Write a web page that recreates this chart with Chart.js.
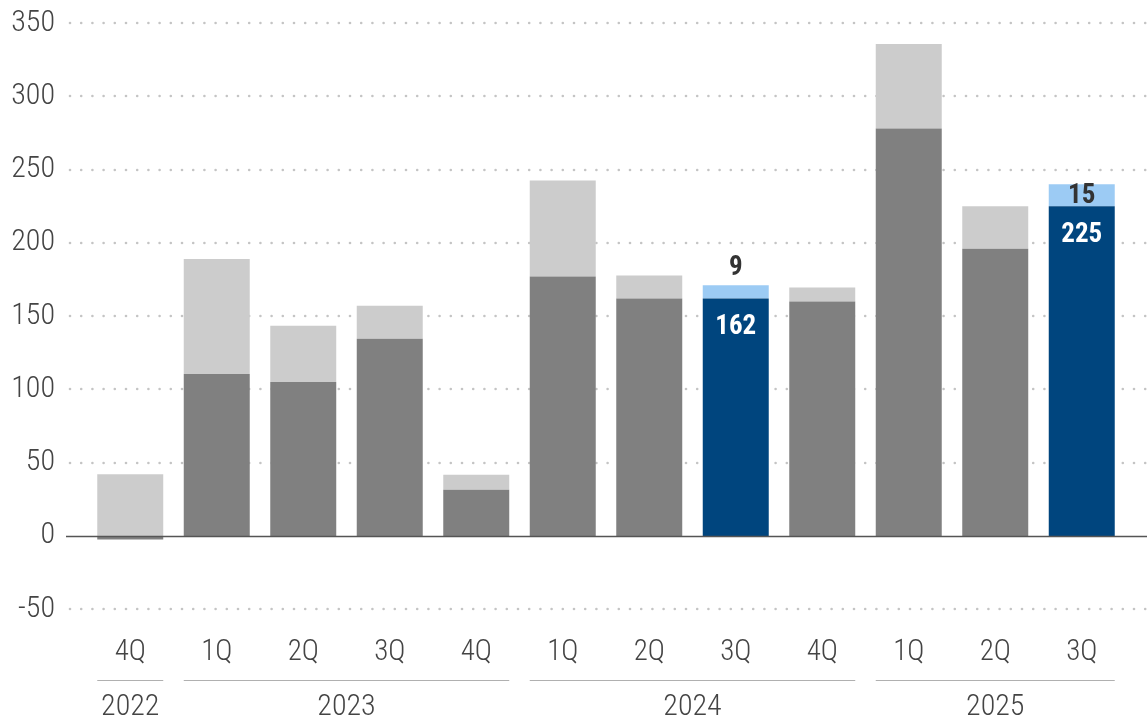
<!DOCTYPE html>
<html>
<head>
<meta charset="utf-8">
<script src="https://cdn.jsdelivr.net/npm/chart.js@4"></script>
<style>
  html, body { margin: 0; padding: 0; background: #fff; }
  #wrap { width: 1147px; height: 719px; }
</style>
</head>
<body>
<div id="wrap"><canvas id="chart"></canvas></div>
<script>
const quarters = ['4Q', '1Q', '2Q', '3Q', '4Q', '1Q', '2Q', '3Q', '4Q', '1Q', '2Q', '3Q']
const years = [
  { label: '2022', from: 0, to: 0 },
  { label: '2023', from: 1, to: 4 },
  { label: '2024', from: 5, to: 8 },
  { label: '2025', from: 9, to: 11 }
]
const baseValues = [-2.5, 110.5, 105, 134.5, 31.5, 177, 162, 162, 160, 278, 196, 225]
const extraValues = [42, 78.5, 38.5, 22.5, 10.3, 65.6, 15.7, 9, 9.5, 57.6, 29, 15]
const highlighted = [7, 11]
const yTicks = [-50, 0, 50, 100, 150, 200, 250, 300, 350]

const FONT = '"Roboto Condensed", "Liberation Sans Narrow", Roboto, sans-serif'
const TEXT = '#444'

const baseColors = baseValues.map((_, i) => highlighted.includes(i) ? '#00457e' : '#808080')
const extraColors = extraValues.map((_, i) => highlighted.includes(i) ? '#9ccbf4' : '#cccccc')

// dotted grid lines, solid zero line, year groups and value labels
const decor = {
  id: 'decor',
  beforeDatasetsDraw(chart) {
    const { ctx, scales: { y }, width } = chart
    ctx.save()
    yTicks.forEach(v => {
      if (v === 0) return
      const py = Math.round(y.getPixelForValue(v))
      ctx.fillStyle = '#c4c4c4'
      for (let x = 70; x < width; x += 11.2) {
        ctx.beginPath()
        ctx.arc(x, py, 1.3, 0, Math.PI * 2)
        ctx.fill()
      }
    })
    ctx.restore()
  },
  afterDatasetsDraw(chart) {
    const { ctx, scales: { x, y }, width } = chart
    ctx.save()
    // zero line
    const y0 = Math.round(y.getPixelForValue(0)) + 0.5
    ctx.strokeStyle = '#555'
    ctx.lineWidth = 1.5
    ctx.beginPath()
    ctx.moveTo(66, y0)
    ctx.lineTo(width, y0)
    ctx.stroke()

    // year groups
    const meta = chart.getDatasetMeta(0)
    ctx.font = '300 30px ' + FONT
    ctx.fillStyle = TEXT
    ctx.textAlign = 'center'
    ctx.textBaseline = 'middle'
    years.forEach(g => {
      const a = meta.data[g.from], b = meta.data[g.to]
      const left = a.x - a.width / 2
      const right = b.x + b.width / 2
      ctx.strokeStyle = '#b0b0b0'
      ctx.lineWidth = 1.2
      ctx.beginPath()
      ctx.moveTo(left, 680.5)
      ctx.lineTo(right, 680.5)
      ctx.stroke()
      ctx.fillText(g.label, (left + right) / 2, 707)
    })

    // value labels on highlighted bars
    ctx.font = 'bold 27px ' + FONT
    highlighted.forEach(i => {
      const bar = meta.data[i]
      const base = baseValues[i], extra = extraValues[i]
      const topBase = y.getPixelForValue(base)
      const topAll = y.getPixelForValue(base + extra)
      ctx.fillStyle = '#fff'
      ctx.fillText(String(base), bar.x, topBase + 29)
      ctx.fillStyle = '#333'
      if (topBase - topAll > 18) {
        ctx.fillText(String(extra), bar.x, (topBase + topAll) / 2 + 1)
      } else {
        ctx.fillText(String(extra), bar.x, topAll - 17)
      }
    })
    ctx.restore()
  }
}

new Chart(document.getElementById('chart'), {
  type: 'bar',
  data: {
    labels: quarters,
    datasets: [
      { data: baseValues, backgroundColor: baseColors, stack: 's' },
      { data: extraValues, backgroundColor: extraColors, stack: 's' }
    ]
  },
  options: {
    responsive: true,
    maintainAspectRatio: false,
    animation: false,
    datasets: { bar: { barPercentage: 0.763, categoryPercentage: 1 } },
    layout: { padding: { top: 23, right: 22, bottom: 23, left: 0 } },
    plugins: { legend: { display: false }, tooltip: { enabled: false } },
    scales: {
      x: {
        stacked: true,
        grid: { display: false, drawTicks: false },
        border: { display: false },
        ticks: { color: TEXT, font: { family: FONT, size: 29, weight: '300' }, padding: 26, maxRotation: 0 }
      },
      y: {
        stacked: true,
        min: -50,
        max: 350,
        afterBuildTicks(scale) { scale.ticks = yTicks.map(v => ({ value: v })) },
        afterFit(scale) {
          scale.width = 87
          // tick padding is horizontal only here; don't let it push the chart area down
          scale.paddingTop = 14
          scale.paddingBottom = 14
        },
        grid: { display: false, drawTicks: false },
        border: { display: false },
        ticks: { color: TEXT, font: { family: FONT, size: 30, weight: '300' }, padding: 32 }
      }
    }
  },
  plugins: [decor]
})
</script>
</body>
</html>
